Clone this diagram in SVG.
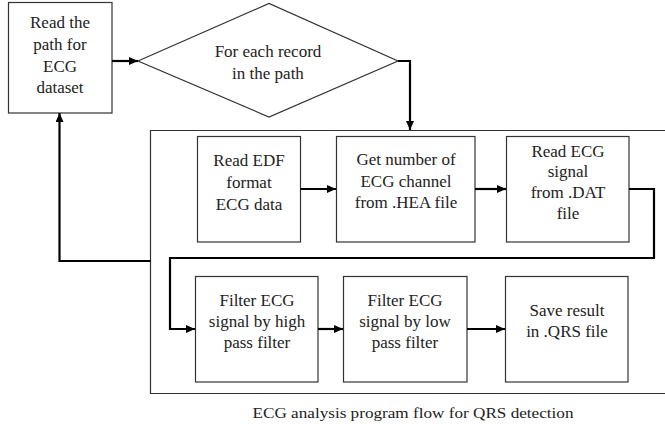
<svg xmlns="http://www.w3.org/2000/svg" width="665" height="424" viewBox="0 0 665 424">
<defs>
<marker id="ah" markerUnits="userSpaceOnUse" markerWidth="10" markerHeight="8" refX="9" refY="4" orient="auto">
<path d="M0,0 L9,4 L0,8 Z" fill="#000"/>
</marker>
<style>
.box{fill:#fff;stroke:#333;stroke-width:1.2}
.cont{fill:none;stroke:#333;stroke-width:1.2}
text{font-family:'Liberation Serif','DejaVu Serif',serif}
.t{font-size:17px;fill:#222;text-anchor:middle}
.c{fill:none;stroke:#000;stroke-width:2.2;marker-end:url(#ah)}
</style>
</defs>
<rect width="665" height="424" fill="#fff"/>
<g id="container">
<path class="cont" d="M670,130.5 H150.5 V393.5 H670"/>
</g>
<g id="n-read-path" font-family="Liberation Serif, DejaVu Serif, serif">
<rect class="box" x="8.5" y="2.5" width="103.5" height="110.5"/>
<text class="t" x="60" y="28">Read the</text>
<text class="t" x="60" y="50">path for</text>
<text class="t" x="60" y="72">ECG</text>
<text class="t" x="60" y="93">dataset</text>
</g>
<g id="n-for-each">
<polygon class="box" points="138,61 269,3.5 398,61 269,117"/>
<text class="t" x="268" y="57">For each record</text>
<text class="t" x="268" y="79">in the path</text>
</g>
<g id="n-read-edf">
<rect class="box" x="197.5" y="136.5" width="103" height="105.5"/>
<text class="t" x="249" y="166">Read EDF</text>
<text class="t" x="249" y="188">format</text>
<text class="t" x="249" y="210">ECG data</text>
</g>
<g id="n-get-channel">
<rect class="box" x="336.5" y="136.5" width="138.5" height="105.5"/>
<text class="t" x="406" y="165">Get number of</text>
<text class="t" x="406" y="187">ECG channel</text>
<text class="t" x="406" y="208">from .HEA file</text>
</g>
<g id="n-read-signal">
<rect class="box" x="506.5" y="136.5" width="122.5" height="105.5"/>
<text class="t" x="568" y="157">Read ECG</text>
<text class="t" x="568" y="177">signal</text>
<text class="t" x="568" y="198">from .DAT</text>
<text class="t" x="568" y="219">file</text>
</g>
<g id="n-high-pass">
<rect class="box" x="195.5" y="276.5" width="122.5" height="105.5"/>
<text class="t" x="257" y="306">Filter ECG</text>
<text class="t" x="257" y="327">signal by high</text>
<text class="t" x="257" y="348">pass filter</text>
</g>
<g id="n-low-pass">
<rect class="box" x="343.5" y="276.5" width="123.5" height="105.5"/>
<text class="t" x="405" y="306">Filter ECG</text>
<text class="t" x="405" y="327">signal by low</text>
<text class="t" x="405" y="348">pass filter</text>
</g>
<g id="n-save">
<rect class="box" x="505.5" y="276.5" width="122.5" height="105.5"/>
<text class="t" x="567" y="316">Save result</text>
<text class="t" x="567" y="337">in .QRS file</text>
</g>
<g id="connectors">
<path class="c" d="M112,61 H138"/>
<path class="c" d="M398,61 H410 V130"/>
<path class="c" d="M300.5,189 H336"/>
<path class="c" d="M475,189 H506"/>
<path class="c" d="M629,189 H654 V258 H170 V329 H195"/>
<path class="c" d="M318,329 H343"/>
<path class="c" d="M467,329 H505"/>
<path class="c" d="M150.5,261 H59.5 V113"/>
</g>
<text x="413" y="418" textLength="321" lengthAdjust="spacingAndGlyphs" font-size="15.5" fill="#222" text-anchor="middle">ECG analysis program flow for QRS detection</text>
</svg>
